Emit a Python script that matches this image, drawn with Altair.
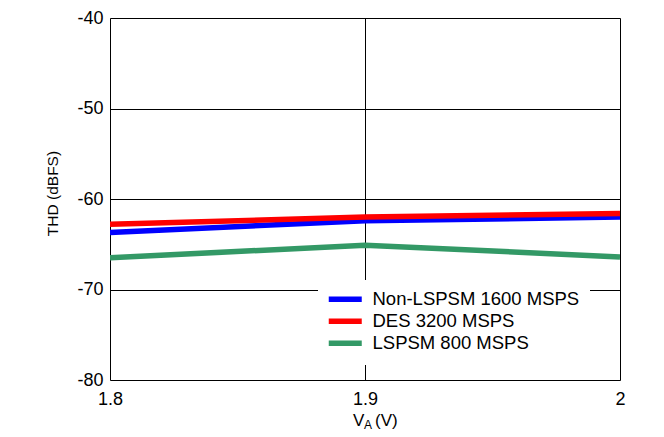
import altair as alt
import pandas as pd

# ---- data ----
va_values = [1.8, 1.9, 2.0]
series_names = ["Non-LSPSM 1600 MSPS", "DES 3200 MSPS", "LSPSM 800 MSPS"]
thd_non_lspsm = [-63.7, -62.4, -62.0]
thd_des = [-62.8, -62.0, -61.6]
thd_lspsm = [-66.5, -65.1, -66.4]
series_colors = ["#0000FF", "#FF0000", "#339966"]
y_ticks = [-80, -70, -60, -50, -40]
x_ticks = [1.8, 1.9, 2.0]

rows = []
for name, vals in zip(series_names, [thd_non_lspsm, thd_des, thd_lspsm]):
    for x, v in zip(va_values, vals):
        rows.append({"VA": x, "THD": v, "Series": name})
df = pd.DataFrame(rows)

FONT = "Liberation Sans"
HYPHEN = "replace(datum.label, '\u2212', '-')"

lines = alt.Chart(df).mark_line(strokeWidth=5.5, clip=True).encode(
    x=alt.X("VA:Q",
            scale=alt.Scale(domain=[1.8, 2.0], nice=False, zero=False),
            axis=alt.Axis(values=x_ticks, format="~g", title=None,
                          labelFontSize=18, labelPadding=10, tickSize=0,
                          labelFlush=False,
                          domain=False, grid=True, gridColor="black",
                          gridWidth=1, gridOpacity=1, labelColor="black",
                          labelFont=FONT)),
    y=alt.Y("THD:Q",
            scale=alt.Scale(domain=[-80, -40], nice=False, zero=False),
            axis=alt.Axis(values=y_ticks, title="THD (dBFS)",
                          labelExpr=HYPHEN,
                          labelFontSize=18, labelPadding=7, tickSize=0,
                          labelFlush=False,
                          domain=False, grid=True, gridColor="black",
                          gridWidth=1, gridOpacity=1, labelColor="black",
                          titleFontSize=15.5, titleFontWeight="normal",
                          titleColor="black", titlePadding=16,
                          titleY=175,
                          labelFont=FONT, titleFont=FONT)),
    color=alt.Color("Series:N",
                    scale=alt.Scale(domain=series_names, range=series_colors),
                    sort=series_names,
                    legend=alt.Legend(title=None, orient="none",
                                      legendX=208, legendY=262,
                                      fillColor="white", padding=10,
                                      symbolType="M-3,0H3",
                                      symbolSize=121,
                                      symbolStrokeWidth=5.5,
                                      symbolOffset=8,
                                      labelOffset=18,
                                      labelFontSize=18.5,
                                      labelFont=FONT,
                                      labelColor="black",
                                      labelLimit=400,
                                      rowPadding=-1)),
    order=alt.Order("Series:N"),
)

# x-axis title "V_A (V)" built from text pieces
title_df = pd.DataFrame({"t": ["x"]})
t_v = alt.Chart(title_df).mark_text(text="V", fontSize=17, font=FONT, align="left",
                                    baseline="alphabetic", color="black").encode(
    x=alt.value(243), y=alt.value(408))
t_a = alt.Chart(title_df).mark_text(text="A", fontSize=12, font=FONT, align="left",
                                    baseline="alphabetic", color="black").encode(
    x=alt.value(254), y=alt.value(411))
t_u = alt.Chart(title_df).mark_text(text="(V)", fontSize=17, font=FONT, align="left",
                                    baseline="alphabetic", color="black").encode(
    x=alt.value(265), y=alt.value(408))

chart = alt.layer(lines, t_v, t_a, t_u).properties(
    width=510, height=362,
    autosize=alt.AutoSizeParams(type="none"),
    padding={"left": 102, "top": 10, "right": 36, "bottom": 54},
).configure_view(
    stroke="black", strokeWidth=3
).configure(
    font=FONT, background="white"
)

chart.save("out.html", embed_options={"renderer": "svg", "actions": False})
